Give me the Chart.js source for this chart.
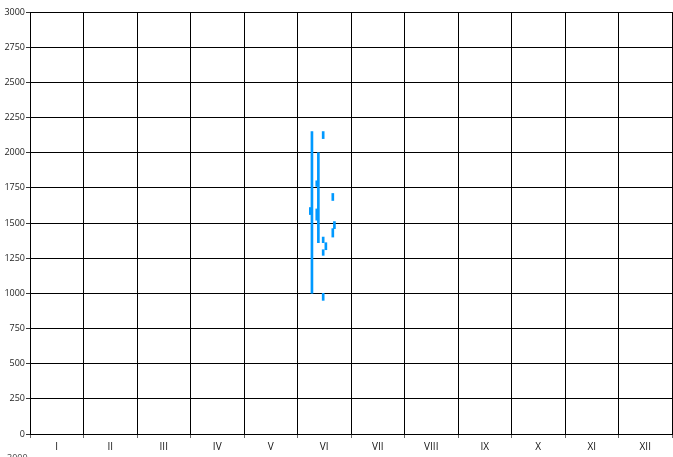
<!DOCTYPE html>
<html>
<head>
<meta charset="utf-8">
<script src="https://cdn.jsdelivr.net/npm/chart.js@4/dist/chart.umd.min.js"></script>
<style>
  html, body { margin: 0; padding: 0; background: #fff; }
  #wrap { width: 673px; height: 457px; position: relative; }
</style>
</head>
<body>
<div id="wrap"><canvas id="c" width="673" height="457"></canvas></div>
<script>
// month labels
const months = ['I', 'II', 'III', 'IV', 'V', 'VI', 'VII', 'VIII', 'IX', 'X', 'XI', 'XII'];
const yTicks = [0, 250, 500, 750, 1000, 1250, 1500, 1750, 2000, 2250, 2500, 2750, 3000];

// position along the year (months, 0 = start of January) and low/high values
const barPos  = [5.24, 5.27, 5.36, 5.36, 5.39, 5.48, 5.48, 5.48, 5.48, 5.53, 5.66, 5.66, 5.69];
const barLow  = [1560, 1000, 1520, 1760, 1360, 2100, 1360, 1270, 950, 1310, 1660, 1400, 1460];
const barHigh = [1610, 2150, 1600, 1800, 2000, 2150, 1400, 1310, 1000, 1360, 1710, 1460, 1510];

const bars = barPos.map((p, i) => ({ x: p, y: [barLow[i], barHigh[i]] }));

const cutLabel = {
    id: 'cutLabel',
    afterDraw(chart) {
        const c = chart.ctx;
        c.save();
        c.font = '9px "Open Sans", sans-serif';
        c.fillStyle = '#444';
        c.textAlign = 'left';
        c.textBaseline = 'top';
        c.fillText('3000', 7, 454);
        c.restore();
    }
};

new Chart(document.getElementById('c').getContext('2d'), {
    type: 'bar',
    data: {
        labels: months,
        datasets: [{
            data: bars,
            xAxisID: 'xv',
            backgroundColor: '#0099ff',
            borderWidth: 0,
            barThickness: 2
        }]
    },
    options: {
        responsive: false,
        animation: false,
        layout: { padding: { top: 12, right: 1, left: 0, bottom: 0 } },
        plugins: { legend: { display: false }, tooltip: { enabled: false } },
        scales: {
            x: {
                type: 'category',
                offset: true,
                grid: { offset: true, color: '#000', lineWidth: 1, tickLength: 4, tickColor: '#666' },
                border: { color: '#000', width: 1 },
                ticks: { color: '#111', font: { family: '"Open Sans", sans-serif', size: 10 }, padding: 3 },
                afterFit(s) { s.height = 23; }
            },
            xv: {
                type: 'linear',
                display: false,
                offset: false,
                min: 0,
                max: 12
            },
            y: {
                min: 0,
                max: 3000,
                afterBuildTicks(s) { s.ticks = yTicks.map(v => ({ value: v })); },
                grid: { color: '#000', lineWidth: 1, tickLength: 4, tickColor: '#333' },
                border: { color: '#000', width: 1 },
                ticks: {
                    color: '#222',
                    font: { family: '"Open Sans", sans-serif', size: 9 },
                    padding: 1,
                    callback: v => String(v)
                },
                afterFit(s) { s.width = 30; }
            }
        }
    },
    plugins: [cutLabel]
});
</script>
</body>
</html>
